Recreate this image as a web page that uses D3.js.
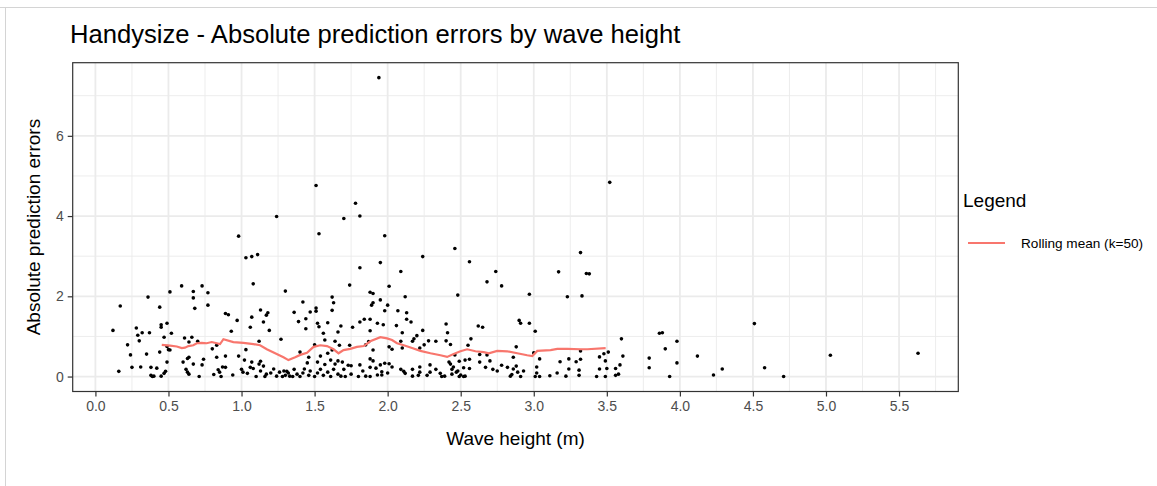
<!DOCTYPE html>
<html>
<head>
<meta charset="utf-8">
<script src="https://cdn.jsdelivr.net/npm/d3@7"></script>
<style>
  body { margin: 0; background: #fff; }
  text { font-family: "Liberation Sans", Arial, sans-serif; }
</style>
</head>
<body>
<div id="chart"></div>
<script>
// wave height (m) of each observation
const waveHeight = [
  0.59,0.73,0.51,0.67,0.77,0.36,0.67,0.17,0.44,0.68,
  0.77,0.12,0.28,0.45,0.49,0.45,0.32,0.37,0.29,0.52,
  0.30,0.47,0.61,0.64,0.66,0.70,0.22,0.49,0.44,0.50,
  0.51,0.80,0.83,0.35,0.24,0.83,0.63,0.64,0.60,0.74,
  0.49,0.67,0.73,0.25,0.31,0.38,0.42,0.16,0.48,0.47,
  0.45,0.38,0.39,0.40,0.62,0.63,0.64,0.71,0.81,0.84,
  0.85,1.08,1.30,1.42,1.51,1.51,1.47,1.62,1.63,0.89,
  0.91,1.13,1.18,1.17,1.07,0.97,1.36,1.44,1.39,1.52,
  1.59,1.15,1.06,1.44,1.53,0.93,1.19,1.56,1.27,1.57,
  1.12,1.66,1.64,1.50,1.03,1.40,1.59,1.62,0.89,0.98,
  1.02,1.07,1.12,1.13,1.15,1.06,1.08,1.46,1.54,1.45,
  1.52,1.57,1.61,1.64,1.66,0.87,0.89,0.86,0.94,1.00,
  1.01,1.04,1.10,1.13,1.16,1.17,1.20,1.22,1.24,1.26,
  1.28,1.30,1.31,1.33,1.36,1.38,1.40,1.42,1.43,1.46,
  1.47,1.50,1.52,1.54,1.56,1.59,1.61,1.63,1.66,1.29,
  1.35,1.32,1.74,2.01,1.88,1.90,2.48,1.62,2.12,1.95,
  1.90,1.89,2.00,1.98,2.07,2.13,1.81,1.84,1.88,2.13,
  2.16,1.93,1.97,2.06,2.24,2.40,2.41,1.68,1.76,1.88,
  2.10,2.20,1.67,1.74,1.85,1.87,2.01,2.03,2.09,2.17,
  2.18,2.25,2.28,2.33,2.40,2.43,1.90,2.10,2.22,1.69,
  1.73,1.75,1.81,1.88,1.90,1.88,1.95,1.98,2.01,2.03,
  1.92,2.09,2.11,2.12,2.17,2.22,2.29,2.33,2.42,2.45,
  2.49,1.70,1.68,1.71,1.75,1.80,1.83,1.85,1.88,1.93,
  1.96,1.96,2.00,2.17,2.21,2.22,2.27,2.29,2.36,2.37,
  2.39,2.44,2.47,2.49,2.78,2.97,3.23,2.90,2.91,2.97,
  3.01,2.62,2.65,2.57,2.55,2.88,2.46,2.53,2.56,2.63,
  2.68,2.70,2.86,3.00,3.04,3.18,3.24,3.29,2.63,2.43,
  2.44,2.48,2.52,2.56,2.67,2.72,2.75,2.78,2.82,2.86,
  2.88,2.93,2.89,3.02,3.02,3.16,3.24,3.31,2.50,2.52,
  2.53,2.84,2.85,2.91,3.01,3.04,3.11,3.22,3.31,3.33,
  3.60,3.86,3.88,3.98,3.90,4.12,3.79,3.98,3.79,3.93,
  3.61,3.59,3.56,3.58,3.56,3.49,3.50,3.49,3.43,3.45,
  3.45,3.48,3.51,3.32,3.32,4.23,4.29,4.51,4.58,4.71,
  5.03,5.63,1.51,1.78,1.24,1.70,1.81,0.98,1.53,1.03,
  1.07,1.11,1.81,1.94,3.52,1.98,2.46,2.24,3.32,1.95,
  2.56,2.09,2.74,2.68,3.17,3.36,3.38
];

// absolute prediction error of each observation (same order)
const absError = [
  2.26,2.26,2.11,2.12,2.09,1.98,1.96,1.76,1.73,1.70,
  1.78,1.15,1.21,1.29,1.33,1.23,1.09,1.09,1.03,1.08,
  0.89,0.98,0.96,0.86,0.98,0.88,0.79,0.75,0.61,0.67,
  0.66,0.69,0.78,0.56,0.54,0.48,0.45,0.48,0.36,0.43,
  0.36,0.31,0.29,0.23,0.24,0.23,0.21,0.13,0.13,0.08,
  0.01,0.03,0.00,0.01,0.18,0.11,0.06,0.00,0.05,0.17,
  0.11,2.31,2.13,1.86,1.71,1.63,1.61,1.98,1.84,1.57,
  1.54,1.66,1.59,1.53,1.48,1.40,1.60,1.44,1.37,1.33,
  1.34,1.36,1.23,1.19,1.24,1.13,1.15,1.08,0.93,0.91,
  0.88,1.11,0.88,0.79,0.67,0.61,0.58,0.66,0.51,0.51,
  0.41,0.36,0.31,0.38,0.26,0.23,0.20,0.48,0.51,0.34,
  0.36,0.30,0.41,0.31,0.39,0.24,0.23,0.00,0.04,0.18,
  0.11,0.08,0.00,0.14,0.00,0.06,0.09,0.19,0.01,0.11,
  0.00,0.03,0.13,0.01,0.18,0.06,0.00,0.09,0.19,0.03,
  0.14,0.00,0.09,0.18,0.03,0.11,0.00,0.18,0.06,0.14,
  0.00,0.09,2.28,2.25,2.10,2.07,2.03,1.65,1.99,1.91,
  1.84,1.78,1.78,1.64,1.64,1.59,1.36,1.43,1.43,1.43,
  1.36,1.33,1.29,1.27,1.15,1.31,1.09,1.26,1.23,1.14,
  1.09,1.02,0.78,0.78,0.79,0.87,0.74,0.68,0.88,0.88,
  0.94,0.79,0.89,0.88,0.89,0.80,0.66,0.71,0.71,0.36,
  0.28,0.27,0.29,0.44,0.39,0.23,0.29,0.33,0.32,0.24,
  0.21,0.18,0.13,0.08,0.18,0.24,0.29,0.18,0.36,0.24,
  0.38,0.18,0.01,0.00,0.06,0.00,0.14,0.01,0.00,0.04,
  0.04,0.12,0.09,0.01,0.03,0.11,0.03,0.11,0.08,0.00,
  0.01,0.06,0.11,0.00,2.26,2.05,1.99,1.40,1.33,1.33,
  1.13,1.26,1.23,0.94,0.78,0.74,0.54,0.41,0.43,0.55,
  0.54,0.39,0.48,0.59,0.44,0.37,0.44,0.37,0.36,0.31,
  0.18,0.14,0.22,0.20,0.23,0.18,0.14,0.28,0.23,0.19,
  0.26,0.14,0.11,0.24,0.09,0.09,0.19,0.16,0.04,0.00,
  0.01,0.01,0.05,0.00,0.00,0.00,0.02,0.01,0.03,2.01,
  0.94,1.08,1.09,0.88,0.69,0.51,0.46,0.34,0.22,0.00,
  0.51,0.29,0.20,0.06,0.03,0.39,0.20,0.00,0.00,0.19,
  0.49,0.57,0.61,0.64,0.43,0.04,0.19,1.32,0.22,0.00,
  0.53,0.58,4.76,4.32,3.99,3.94,4.00,3.50,3.56,2.96,
  2.99,3.04,2.71,7.45,4.84,3.51,3.19,2.99,3.09,2.84,
  2.86,2.62,2.62,2.36,2.61,2.57,2.56
];

// rolling mean (k=50)
const rollWave = [
  0.454,0.511,0.557,0.591,0.613,0.636,0.670,0.694,0.728,0.762,
  0.796,0.853,0.876,0.944,1.013,1.082,1.127,1.173,1.230,1.287,
  1.321,1.367,1.402,1.448,1.493,1.539,1.585,1.630,1.664,1.698,
  1.744,1.790,1.836,1.881,1.950,1.996,2.030,2.064,2.110,2.167,
  2.224,2.293,2.361,2.407,2.452,2.498,2.544,2.601,2.658,2.692,
  2.750,2.818,2.887,2.955,2.990,3.024,3.115,3.161,3.230,3.321,
  3.367,3.492
];
const rollMean = [
  0.79,0.77,0.75,0.71,0.72,0.76,0.78,0.83,0.84,0.83,
  0.86,0.81,0.93,0.86,0.84,0.81,0.78,0.68,0.58,0.48,
  0.41,0.48,0.54,0.59,0.74,0.78,0.76,0.68,0.58,0.66,
  0.69,0.74,0.76,0.88,0.98,0.95,0.91,0.83,0.78,0.71,
  0.64,0.58,0.53,0.49,0.56,0.63,0.68,0.63,0.61,0.58,
  0.64,0.63,0.58,0.53,0.51,0.64,0.66,0.69,0.69,0.68,
  0.68,0.71
];

const xTicks = [0, 0.5, 1, 1.5, 2, 2.5, 3, 3.5, 4, 4.5, 5, 5.5];
const xMinor = [0.25, 0.75, 1.25, 1.75, 2.25, 2.75, 3.25, 3.75, 4.25, 4.75, 5.25, 5.75];
const yTicks = [0, 2, 4, 6];
const yMinor = [1, 3, 5, 7];

const W = 1157, H = 486;
const panel = { left: 72.7, right: 958.3, top: 62.7, bottom: 391.5 };

const svg = d3.select("#chart").append("svg")
  .attr("width", W)
  .attr("height", H)
  .style("display", "block");

svg.append("rect").attr("width", W).attr("height", H).attr("fill", "#fff");

// faint frame of the screenshot
svg.append("line").attr("x1", 0).attr("x2", W).attr("y1", 7.5).attr("y2", 7.5)
  .attr("stroke", "#d4d4d4").attr("stroke-width", 1);
svg.append("line").attr("x1", 5.5).attr("x2", 5.5).attr("y1", 7.5).attr("y2", H)
  .attr("stroke", "#d4d4d4").attr("stroke-width", 1);

// ggplot style 5% expansion
function expand(ext) {
  const pad = (ext[1] - ext[0]) * 0.05;
  return [ext[0] - pad, ext[1] + pad];
}

const x = d3.scaleLinear()
  .domain(expand(d3.extent(waveHeight)))
  .range([panel.left, panel.right]);

const y = d3.scaleLinear()
  .domain(expand(d3.extent(absError)))
  .range([panel.bottom, panel.top]);

// grid
const grid = svg.append("g");
grid.selectAll(".xminor").data(xMinor).join("line")
  .attr("x1", d => x(d)).attr("x2", d => x(d))
  .attr("y1", panel.top).attr("y2", panel.bottom)
  .attr("stroke", "#ebebeb").attr("stroke-width", 0.9);
grid.selectAll(".yminor").data(yMinor).join("line")
  .attr("y1", d => y(d)).attr("y2", d => y(d))
  .attr("x1", panel.left).attr("x2", panel.right)
  .attr("stroke", "#ebebeb").attr("stroke-width", 0.9);
grid.selectAll(".xmajor").data(xTicks).join("line")
  .attr("x1", d => x(d)).attr("x2", d => x(d))
  .attr("y1", panel.top).attr("y2", panel.bottom)
  .attr("stroke", "#ebebeb").attr("stroke-width", 1.8);
grid.selectAll(".ymajor").data(yTicks).join("line")
  .attr("y1", d => y(d)).attr("y2", d => y(d))
  .attr("x1", panel.left).attr("x2", panel.right)
  .attr("stroke", "#ebebeb").attr("stroke-width", 1.8);

// points
const pts = d3.zip(waveHeight, absError);
svg.append("g").selectAll("circle").data(pts).join("circle")
  .attr("cx", d => x(d[0]))
  .attr("cy", d => y(d[1]))
  .attr("r", 1.8)
  .attr("fill", "#000");

// rolling mean
svg.append("path")
  .datum(d3.zip(rollWave, rollMean))
  .attr("fill", "none")
  .attr("stroke", "#F8766D")
  .attr("stroke-width", 2.2)
  .attr("d", d3.line().x(d => x(d[0])).y(d => y(d[1])));

// panel border
svg.append("rect")
  .attr("x", panel.left).attr("y", panel.top)
  .attr("width", panel.right - panel.left)
  .attr("height", panel.bottom - panel.top)
  .attr("fill", "none")
  .attr("stroke", "#333333")
  .attr("stroke-width", 1.2);

// axes
const xAxis = svg.append("g")
  .attr("transform", `translate(0,${panel.bottom})`)
  .call(d3.axisBottom(x).tickValues(xTicks).tickFormat(d3.format(".1f")).tickSize(5).tickPadding(5));
const yAxis = svg.append("g")
  .attr("transform", `translate(${panel.left},0)`)
  .call(d3.axisLeft(y).tickValues(yTicks).tickFormat(d3.format("d")).tickSize(5).tickPadding(4));

[xAxis, yAxis].forEach(a => {
  a.select(".domain").remove();
  a.selectAll(".tick line").attr("stroke", "#333333").attr("stroke-width", 1.2);
  a.selectAll(".tick text")
    .attr("fill", "#4d4d4d")
    .style("font-size", "14px")
    .style("font-family", "'Liberation Sans', Arial, sans-serif");
});

// titles
svg.append("text")
  .attr("x", 70).attr("y", 43)
  .style("font-size", "25.6px")
  .attr("fill", "#000")
  .text("Handysize - Absolute prediction errors by wave height");

svg.append("text")
  .attr("x", (panel.left + panel.right) / 2).attr("y", 445)
  .attr("text-anchor", "middle")
  .style("font-size", "19px")
  .attr("fill", "#000")
  .text("Wave height (m)");

svg.append("text")
  .attr("transform", `translate(40,${(panel.top + panel.bottom) / 2}) rotate(-90)`)
  .attr("text-anchor", "middle")
  .style("font-size", "19px")
  .attr("fill", "#000")
  .text("Absolute prediction errors");

// legend
const legend = svg.append("g");
legend.append("text")
  .attr("x", 963).attr("y", 207)
  .style("font-size", "19px")
  .attr("fill", "#000")
  .text("Legend");
legend.append("line")
  .attr("x1", 968).attr("x2", 1005)
  .attr("y1", 243).attr("y2", 243)
  .attr("stroke", "#F8766D")
  .attr("stroke-width", 2.2);
legend.append("text")
  .attr("x", 1021).attr("y", 248)
  .style("font-size", "13.6px")
  .attr("fill", "#000")
  .text("Rolling mean (k=50)");
</script>
</body>
</html>
